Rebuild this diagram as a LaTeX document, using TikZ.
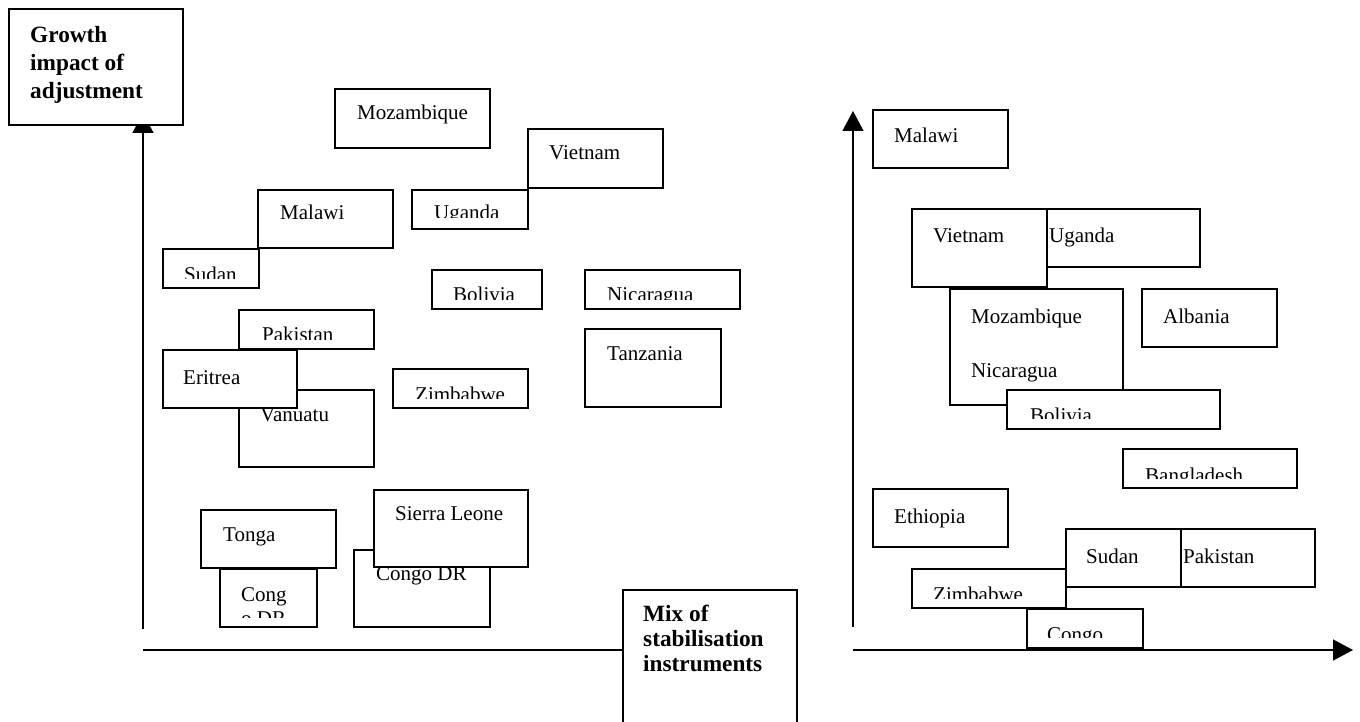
\documentclass[tikz,border=0pt]{standalone}
\usepackage{fontspec}
\setmainfont{Liberation Serif}
\usetikzlibrary{arrows.meta}
\newcommand{\mkbox}[5]{\node[cbox, minimum width=#4pt, minimum height=#5pt] (#1) at (#2,#3) {};}
\newcommand{\mktxt}[4]{\node[txt] (#1) at (#2,#3) {#4};}
% name, x, baseline, text, clip x1, y1, x2, y2
\newcommand{\mkclip}[8]{\begin{scope}\clip (#5,#6) rectangle (#7,#8);\node[txt] (#1) at (#2,#3) {#4};\end{scope}}
\begin{document}
\begin{tikzpicture}[x=1pt,y=-1pt,
  cbox/.style={draw, fill=white, line width=1.5pt, inner sep=0pt, outer sep=0pt, anchor=north west},
  txt/.style={inner sep=0pt, anchor=base west, font=\fontsize{21}{27}\selectfont},
  boldtxt/.style={inner sep=0pt, anchor=base west},
  axis/.style={line width=1.5pt},
  tipped/.style={-{Triangle[length=20pt,width=21pt]}}]
\useasboundingbox (0,0) rectangle (1360,722);

% ---------- left panel axes ----------
\coordinate (lo) at (143,650);
\coordinate (lb) at (143,629);
\coordinate (lt) at (143,113);
\draw[axis,tipped] (lb) -- (lt);

% heading
\mkbox{head}{9}{9}{174}{116}
\node[boldtxt] (headt) at (30,43) {\fontsize{23.3}{28}\selectfont\bfseries
  \begin{tabular}[t]{@{}l@{}}Growth\\ impact of\\ adjustment\end{tabular}};

% ---------- left panel boxes ----------
\mkbox{mozL}{335}{89}{155}{59}
\mktxt{mozLt}{357}{120}{Mozambique}
\mkbox{vieL}{528}{129}{135}{59}
\mktxt{vieLt}{549}{160}{Vietnam}
\mkbox{malL}{258}{190}{135}{58}
\mktxt{malLt}{280}{220}{Malawi}
\mkbox{ugaL}{412}{190}{116}{39}
\mkclip{ugaLt}{434}{220}{Uganda}{413}{191}{527}{218}
\mkbox{sudL}{163}{249}{96}{39}
\mkclip{sudLt}{184}{281}{Sudan}{164}{250}{258}{278}
\mkbox{bolL}{432}{270}{110}{39}
\mkclip{bolLt}{453}{301}{Bolivia}{433}{271}{541}{299}
\mkbox{nicL}{585}{270}{155}{39}
\mkclip{nicLt}{607}{301}{Nicaragua}{586}{271}{739}{299}
\mkbox{pakL}{239}{310}{135}{39}
\mkclip{pakLt}{262}{341}{Pakistan}{240}{311}{373}{339}
\mkbox{vanL}{239}{390}{135}{77}
\mktxt{vanLt}{260}{421}{Vanuatu}
\mkbox{eriL}{163}{350}{134}{58}
\mktxt{eriLt}{183}{384}{Eritrea}
\mkbox{zimL}{393}{369}{135}{39}
\mkclip{zimLt}{415}{401}{Zimbabwe}{394}{370}{527}{398}
\mkbox{tanL}{585}{329}{136}{78}
\mktxt{tanLt}{607}{360}{Tanzania}
\mkbox{tonL}{201}{510}{135}{58}
\mktxt{tonLt}{223}{541}{Tonga}
\mkbox{cdrS}{220}{569}{97}{58}
\begin{scope}\clip (221,570) rectangle (316,617);
\node[boldtxt] (cdrSt) at (241,601) {\fontsize{21}{24}\selectfont
  \begin{tabular}[t]{@{}l@{}}Cong\\ o DR\end{tabular}};
\end{scope}
\mkbox{cdrB}{354}{550}{136}{77}
\mktxt{cdrBt}{376}{580}{Congo DR}
\mkbox{sieL}{374}{490}{154}{77}
\mktxt{sieLt}{395}{520}{Sierra Leone}

% x axis of left panel and its label box
\mkbox{mix}{623}{590}{174}{140}
\node[boldtxt] (mixt) at (643,621) {\fontsize{23.3}{25}\selectfont\bfseries
  \begin{tabular}[t]{@{}l@{}}Mix of\\ stabilisation\\ instruments\end{tabular}};
\draw[axis] (lo) -- (lo -| mix.west);

% ---------- right panel axes ----------
\coordinate (ro) at (853,650);
\coordinate (rb) at (853,627);
\coordinate (rt) at (853,111);
\coordinate (rr) at (1353,650);
\draw[axis,tipped] (rb) -- (rt);
\draw[axis,tipped] (ro) -- (rr);

% ---------- right panel boxes ----------
\mkbox{malR}{873}{110}{135}{58}
\mktxt{malRt}{894}{143}{Malawi}
\mkbox{ugaR}{1027}{209}{173}{58}
\mktxt{ugaRt}{1049}{243}{Uganda}
\mkbox{vieR}{912}{209}{135}{78}
\mktxt{vieRt}{933}{243}{Vietnam}
\mkbox{mozR}{950}{289}{173}{116}
\node[boldtxt] (mozRt) at (971,323) {\fontsize{21}{27.5}\selectfont
  \begin{tabular}[t]{@{}l@{}}Mozambique\\ \\ Nicaragua\end{tabular}};
\mkbox{albR}{1142}{289}{135}{58}
\mktxt{albRt}{1163}{323}{Albania}
\mkbox{bolR}{1007}{390}{213}{39}
\mkclip{bolRt}{1030}{422}{Bolivia}{1008}{391}{1219}{418}
\mkbox{banR}{1123}{449}{174}{39}
\mkclip{banRt}{1145}{482}{Bangladesh}{1124}{450}{1296}{478}
\mkbox{ethR}{873}{489}{135}{58}
\mktxt{ethRt}{894}{523}{Ethiopia}
\mkbox{pakR}{1162}{529}{153}{58}
\mktxt{pakRt}{1183}{563}{Pakistan}
\mkbox{sudR}{1066}{529}{115}{58}
\mktxt{sudRt}{1086}{563}{Sudan}
\mkbox{zimR}{912}{569}{154}{39}
\mkclip{zimRt}{933}{601}{Zimbabwe}{913}{570}{1065}{598}
\mkbox{conR}{1027}{609}{116}{39}
\mkclip{conRt}{1047}{641}{Congo}{1028}{610}{1142}{637}
\end{tikzpicture}
\end{document}
